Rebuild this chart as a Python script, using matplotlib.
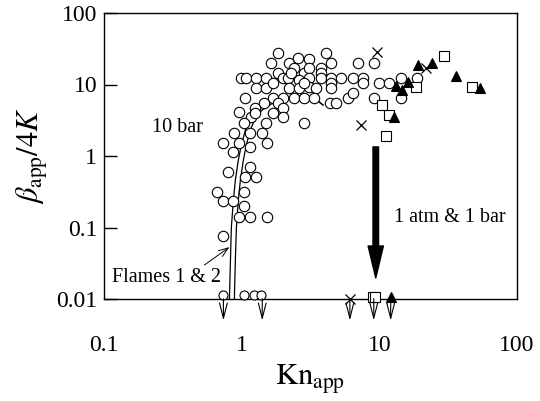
import matplotlib
matplotlib.use("Agg")
import matplotlib.pyplot as plt

plt.rcParams['font.family'] = ['Liberation Serif', 'DejaVu Serif']
plt.rcParams['mathtext.fontset'] = 'stix'

# ---- data (Kn_app, beta_app/4K) ----
circ_kn = [1.843, 1.640, 2.213, 2.570, 3.087, 2.405, 4.098, 2.841, 3.087, 3.771, 3.771, 3.771,
           1.843, 0.995, 1.081, 1.277, 1.509, 2.002, 2.176, 2.614, 3.087, 1.277, 1.509, 1.695,
           2.213, 2.614, 3.087, 3.469, 1.064, 1.695, 2.002, 2.405, 2.841, 3.355, 4.379, 4.839,
           1.459, 1.843, 0.962, 1.175, 1.256, 1.256, 1.695, 2.002, 2.002, 1.046, 1.509, 2.841,
           0.885, 1.156, 1.411, 0.737, 0.962, 1.534, 0.871, 1.156, 1.156, 0.801, 1.064, 1.277,
           0.667, 1.046, 0.737, 0.871, 1.046, 0.962, 1.156, 1.534, 0.737,
           4.452, 6.983, 9.11, 2.288, 4.452, 4.452, 4.452, 5.260, 6.422, 7.586, 7.586, 2.841,
           5.908, 6.422, 9.11, 9.90, 11.69, 14.28, 14.28, 18.64]
circ_b = [27.57, 19.98, 19.98, 23.48, 22.73, 17.01, 27.57, 14.48, 17.01, 17.01, 14.48, 12.33,
          14.48, 12.33, 12.33, 12.33, 12.33, 12.33, 12.33, 11.56, 12.33, 8.93, 8.93, 10.49,
          8.93, 8.93, 9.23, 8.93, 6.475, 6.475, 6.475, 6.475, 6.475, 6.475, 5.511, 5.511,
          5.511, 5.511, 4.125, 3.511, 4.692, 3.995, 3.995, 4.692, 3.511, 2.894, 2.894, 2.894,
          2.098, 2.098, 2.098, 1.520, 1.520, 1.520, 1.137, 1.336, 0.702, 0.597, 0.508, 0.508,
          0.3137, 0.3137, 0.2347, 0.2347, 0.1998, 0.1402, 0.1402, 0.1402, 0.0760,
          19.98, 19.98, 19.98, 14.48, 12.33, 10.49, 8.93, 12.33, 12.33, 12.33, 10.49, 10.49,
          6.475, 7.605, 6.475, 10.49, 10.49, 12.33, 6.475, 12.33]
circ_low_kn = [0.737, 1.046, 1.235, 1.388]
circ_low_b = [0.0114, 0.0114, 0.0114, 0.0114]

cross_kn = [9.58, 7.34, 22.0, 6.109]
cross_b = [28.48, 2.714, 17.0, 0.0100]

sq_kn = [29.71, 18.33, 10.41, 11.69, 11.12, 47.35, 8.95, 9.3]
sq_b = [25.03, 9.23, 5.168, 3.745, 1.905, 9.23, 0.0106, 0.0106]

tri_kn = [13.14, 14.52, 16.05, 18.96, 24.33, 36.28, 54.10, 12.71, 12.09]
tri_b = [9.5, 8.38, 10.84, 18.74, 19.98, 13.15, 8.93, 3.511, 0.0106]

# upper-limit points (drawn at the 0.01 floor)
limit_kn = [0.737, 1.411, 6.109, 9.11, 12.09]

# theoretical curves, Flames 1 & 2
flame1_kn = [0.815, 0.829, 0.842, 0.871, 0.900, 0.946, 0.995, 1.064, 1.156, 1.299, 1.509,
             1.782, 2.288, 2.937, 3.355, 3.898]
flame2_kn = [0.885, 0.900, 0.916, 0.946, 0.979, 1.029, 1.081, 1.156, 1.256, 1.411, 1.640,
             1.937, 2.365, 2.937, 3.355, 3.898]
flame_b = [0.01, 0.0351, 0.1016, 0.2425, 0.4615, 0.879, 1.425, 2.31, 3.40, 4.40, 5.34,
           6.07, 6.686, 6.906, 6.475, 5.168]

fig = plt.figure(figsize=(5.40, 4.01), dpi=100)
ax = fig.add_axes([104/540, 1-299/401, (517-104)/540, (299-13)/401])
ax.set_xscale('log')
ax.set_yscale('log')
ax.set_xlim(0.1, 100)
ax.set_ylim(0.01, 100)

ax.plot(flame1_kn, flame_b, color='k', lw=0.9)
ax.plot(flame2_kn, flame_b, color='k', lw=0.9)

mk = dict(clip_on=False, zorder=3)
ax.plot(circ_kn, circ_b, 'o', ms=7.5, mfc='white', mec='k', mew=0.8, ls='none', **mk)
ax.plot(circ_low_kn, circ_low_b, 'o', ms=6.5, mfc='white', mec='k', mew=0.8, ls='none', **mk)
ax.plot(cross_kn, cross_b, 'x', ms=7.5, mec='k', mew=0.9, ls='none', **mk)
ax.plot(sq_kn, sq_b, 's', ms=6.5, mfc='white', mec='k', mew=0.8, ls='none', **mk)
ax.plot(tri_kn, tri_b, '^', ms=7.5, mfc='k', mec='k', mew=0.8, ls='none', **mk)

for kn in limit_kn:
    ax.annotate('', xy=(kn, 0.0050), xytext=(kn, 0.0101),
                arrowprops=dict(arrowstyle='->,head_length=1.1,head_width=0.28', lw=0.8,
                                color='k', shrinkA=0, shrinkB=0),
                annotation_clip=False)

# big arrow
ax.annotate('', xy=(9.42, 0.0197), xytext=(9.42, 1.34),
            arrowprops=dict(arrowstyle='simple,head_length=1.15,head_width=0.55,tail_width=0.2',
                            mutation_scale=20, color='k', shrinkA=0, shrinkB=0))

# Flames label arrow
ax.annotate('', xy=(0.815, 0.0533), xytext=(0.537, 0.0299),
            arrowprops=dict(arrowstyle='->,head_length=0.7,head_width=0.25', lw=0.7,
                            color='k', shrinkA=0, shrinkB=0))

ax.text(0.343, 2.47, '10 bar', fontsize=14.5, ha='center', va='center')
ax.text(32.3, 0.140, '1 atm & 1 bar', fontsize=14.5, ha='center', va='center')
ax.text(0.2855, 0.0203, 'Flames 1 & 2', fontsize=14.5, ha='center', va='center')

ax.set_xticks([0.1, 1, 10, 100])
ax.set_xticklabels(['0.1', '1', '10', '100'])
ax.set_yticks([0.01, 0.1, 1, 10, 100])
ax.set_yticklabels(['0.01', '0.1', '1', '10', '100'])
ax.minorticks_off()
ax.tick_params(axis='x', length=0, pad=26, labelsize=17)
ax.tick_params(axis='y', direction='in', length=9, width=1, pad=5, labelsize=17)
for s in ax.spines.values():
    s.set_linewidth(1.0)

ax.set_xlabel(r'$\mathrm{Kn}_\mathrm{app}$', fontsize=22, labelpad=5)
ax.set_ylabel(r'$\beta_\mathrm{app}/4K$', fontsize=22, labelpad=4)

fig.savefig('out.png', dpi=100)
